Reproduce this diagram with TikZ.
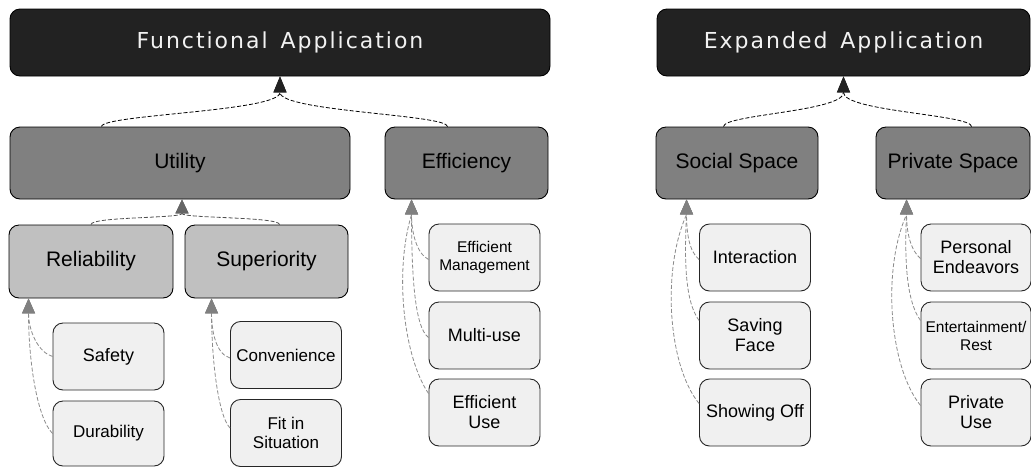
\documentclass[tikz,border=0pt]{standalone}
\usepackage{fontspec}
\setmainfont{Liberation Sans}
\newfontfamily\titlefont[LetterSpace=9]{DejaVu Sans}
\usetikzlibrary{arrows.meta,calc}

\definecolor{boxblack}{HTML}{222222}
\definecolor{midgray}{HTML}{808080}
\definecolor{subgray}{HTML}{C0C0C0}
\definecolor{leafgray}{HTML}{F0F0F0}
\definecolor{titletext}{HTML}{F2F2F2}
\definecolor{connmid}{HTML}{505050}
\definecolor{connmidtip}{HTML}{666666}
\definecolor{connleaf}{HTML}{8C8C8C}
\definecolor{connleaftip}{HTML}{808080}

\begin{document}
\begin{tikzpicture}[x=1pt,y=-1pt,
  box/.style={draw=black, line width=0.9pt, rounded corners=10pt, inner sep=0pt, align=center, text=black},
  titlebox/.style={box, fill=boxblack, text=titletext, minimum height=67pt, font=\titlefont\fontsize{22}{26}\selectfont},
  catbox/.style={box, fill=midgray, minimum height=72pt, font=\fontsize{21}{24}\selectfont},
  subbox/.style={box, fill=subgray, minimum height=73pt, font=\fontsize{21}{24}\selectfont},
  leafbox/.style={box, fill=leafgray, draw=black!85, minimum width=111pt, minimum height=67pt, font=\fontsize{18}{20}\selectfont},
  leafmid/.style={font=\fontsize{17}{19}\selectfont},
  leafsmall/.style={font=\fontsize{15.5}{18}\selectfont},
  topconn/.style={draw=black, line width=0.8pt, dash pattern=on 4pt off 2pt, -{Triangle[width=13pt,length=16pt,color=boxblack,fill=boxblack]}},
  midconn/.style={draw=connmid, line width=0.8pt, dash pattern=on 4pt off 2pt, -{Triangle[width=13pt,length=14pt,color=connmidtip,fill=connmidtip]}},
  leafconn/.style={draw=connleaf, line width=0.8pt, dash pattern=on 4pt off 2pt, -{Triangle[width=13pt,length=15pt,color=connleaftip,fill=connleaftip]}}
]
\useasboundingbox (0,0) rectangle (1031,467);
\fill[white] (0,0) rectangle (1031,467);

% top level
\node[titlebox, minimum width=540pt] (fa) at (280,42.5) {Functional\hspace{4pt} Application};
\node[titlebox, minimum width=373pt] (ea) at (843.5,42.5) {Expanded\hspace{4pt} Application};

% categories
\node[catbox, minimum width=340pt] (util) at (180,163) {Utility};
\node[catbox, minimum width=163pt] (eff) at (466.5,163) {Efficiency};
\node[catbox, minimum width=162pt] (soc) at (737,163) {Social Space};
\node[catbox, minimum width=154pt] (priv) at (953,163) {Private Space};

% sub categories
\node[subbox, minimum width=164pt] (rel) at (91,261.5) {Reliability};
\node[subbox, minimum width=163pt] (sup) at (266.5,261.5) {Superiority};

% leaves
\node[leafbox] (safety) at (108.5,356.5) {Safety};
\node[leafbox, minimum height=65pt, leafmid] (dur) at (108.5,433.5) {Durability};
\node[leafbox, leafmid] (conv) at (286,355) {Convenience};
\node[leafbox, leafmid] (fit) at (286,433) {Fit in\\Situation};
\node[leafbox, leafsmall] (em) at (484.5,257.5) {Efficient\\Management};
\node[leafbox] (mu) at (484.5,335.5) {Multi-use};
\node[leafbox] (eu) at (484.5,412.5) {Efficient\\Use};
\node[leafbox] (inter) at (755,257.5) {Interaction};
\node[leafbox] (save) at (755,335.5) {Saving\\Face};
\node[leafbox] (show) at (755,412.5) {Showing Off};
\node[leafbox, minimum width=110pt] (pe) at (976,257.5) {Personal\\Endeavors};
\node[leafbox, minimum width=110pt, leafsmall] (er) at (976,335.5) {Entertainment/\\Rest};
\node[leafbox, minimum width=110pt] (pu) at (976,412.5) {Private\\Use};

% tips and bases
\coordinate (faT) at (fa.south);
\coordinate (faB) at ($(fa.south)+(0,16)$);
\coordinate (eaT) at (ea.south);
\coordinate (eaB) at ($(ea.south)+(0,16)$);
\coordinate (utilT) at ($(util.south)+(2,0)$);
\coordinate (utilB) at ($(utilT)+(0,14)$);
\coordinate (relT) at ($(rel.south west)+(20,0)$);
\coordinate (relB) at ($(relT)+(0,15)$);
\coordinate (supT) at ($(sup.south west)+(27,0)$);
\coordinate (supB) at ($(supT)+(0,15)$);
\coordinate (effT) at ($(eff.south west)+(27,0)$);
\coordinate (effB) at ($(effT)+(0,15)$);
\coordinate (socT) at ($(soc.south west)+(31,0)$);
\coordinate (socB) at ($(socT)+(0,15)$);
\coordinate (privT) at ($(priv.south west)+(31,0)$);
\coordinate (privB) at ($(privT)+(0,15)$);

% top connectors
\draw[topconn] ($(util.north west)+(92,0)$) .. controls +(0,-12) and +(0,19) .. (faB) -- (faT);
\draw[topconn] ($(eff.north west)+(63,0)$) .. controls +(0,-12) and +(0,19) .. (faB) -- (faT);
\draw[topconn] ($(soc.north west)+(68,0)$) .. controls +(0,-12) and +(0,19) .. (eaB) -- (eaT);
\draw[topconn] ($(priv.north west)+(96,0)$) .. controls +(0,-12) and +(0,19) .. (eaB) -- (eaT);

% mid connectors
\draw[midconn] (rel.north) .. controls +(0,-8) and +(0,5) .. (utilB) -- (utilT);
\draw[midconn] ($(sup.north west)+(95,0)$) .. controls +(0,-8) and +(0,5) .. (utilB) -- (utilT);

% leaf connectors: reliability
\draw[leafconn] (safety.west) .. controls +(-14,-4) and +(0,18) .. (relB) -- (relT);
\draw[leafconn] (dur.west) .. controls +(-15,-15) and +(0,50) .. (relB) -- (relT);
% superiority
\draw[leafconn] ($(conv.west)+(0,3)$) .. controls +(-14,-4) and +(0,18) .. (supB) -- (supT);
\draw[leafconn] ($(fit.west)+(0,-5)$) .. controls +(-12,-12) and +(0,45) .. (supB) -- (supT);
% efficiency
\draw[leafconn] ($(em.west)+(0,2)$) .. controls +(-12,-6) and +(0,18) .. (effB) -- (effT);
\draw[leafconn] ($(mu.west)+(0,2)$) .. controls +(-14,-10) and +(0,60) .. (effB) -- (effT);
\draw[leafconn] ($(eu.west)+(0,-19)$) .. controls +(-24,-35) and +(-18,60) .. (effB) -- (effT);
% social
\draw[leafconn] ($(inter.west)+(0,2)$) .. controls +(-10,-8) and +(0,18) .. (socB) -- (socT);
\draw[leafconn] ($(save.west)+(0,-15)$) .. controls +(-15,-20) and +(-2,40) .. (socB) -- (socT);
\draw[leafconn] ($(show.west)+(0,-9)$) .. controls +(-31,-38) and +(-25,56) .. (socB) -- (socT);
% private
\draw[leafconn] ($(pe.west)+(0,1)$) .. controls +(-10,-8) and +(0,18) .. (privB) -- (privT);
\draw[leafconn] ($(er.west)+(0,-15)$) .. controls +(-15,-20) and +(-2,40) .. (privB) -- (privT);
\draw[leafconn] ($(pu.west)+(0,-7)$) .. controls +(-31,-38) and +(-25,56) .. (privB) -- (privT);
\end{tikzpicture}
\end{document}
